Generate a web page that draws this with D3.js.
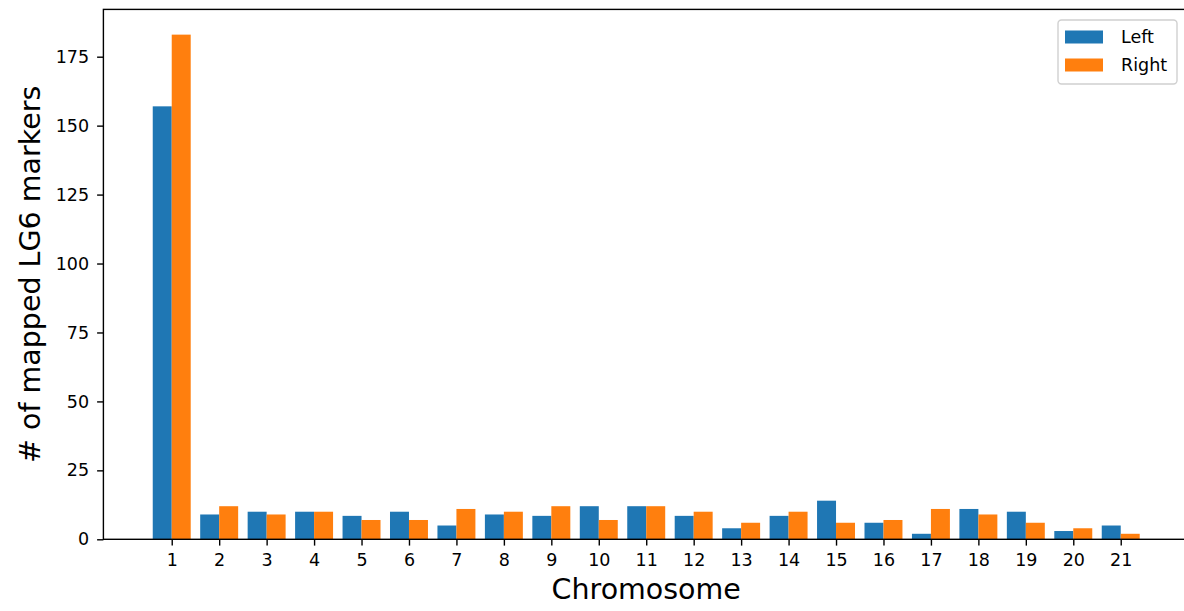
<!DOCTYPE html>
<html>
<head>
<meta charset="utf-8">
<script src="https://cdn.jsdelivr.net/npm/d3@7"></script>
<style>
  html, body { margin: 0; padding: 0; background: #fff; }
  svg { display: block; font-family: "DejaVu Sans", sans-serif; }
</style>
</head>
<body>
<svg id="chart" width="1184" height="611"></svg>
<script>
// Mapped LG6 markers per chromosome, left and right sides
const chromosomes = [1, 2, 3, 4, 5, 6, 7, 8, 9, 10, 11, 12, 13, 14, 15, 16, 17, 18, 19, 20, 21];
const leftCounts  = [157, 9, 10, 10, 8.5, 10, 5, 9, 8.5, 12, 12, 8.5, 4, 8.5, 14, 6, 2, 11, 10, 3, 5];
const rightCounts = [183, 12, 9, 10, 7, 7, 11, 10, 12, 7, 12, 10, 6, 10, 6, 7, 11, 9, 6, 4, 2];
const yTicks = [0, 25, 50, 75, 100, 125, 150, 175];
const seriesNames = ["Left", "Right"];
const seriesColors = ["#1f77b4", "#ff7f0e"];

const svg = d3.select("#chart");
const plot = { left: 103.4, top: 9.4, bottom: 539.3 };
const barWidth = 0.4;

// x limits: data extent plus 5% margin on each side
const xMin = chromosomes[0] - barWidth, xMax = chromosomes[chromosomes.length - 1] + barWidth;
const xPad = (xMax - xMin) * 0.05;
const x = d3.scaleLinear()
  .domain([xMin - xPad, xMax + xPad])
  .range([plot.left, plot.left + (xMax - xMin + 2 * xPad) * 47.45]);

const yMax = d3.max(rightCounts.concat(leftCounts)) * 1.05;
const y = d3.scaleLinear().domain([0, yMax]).range([plot.bottom, plot.top]);

// bars
const series = [leftCounts, rightCounts];
series.forEach((vals, si) => {
  svg.append("g").selectAll("rect")
    .data(chromosomes.map((c, i) => ({ c, v: vals[i] })))
    .join("rect")
    .attr("x", d => si === 0 ? x(d.c - barWidth) : x(d.c))
    .attr("width", d => x(d.c + barWidth) - x(d.c))
    .attr("y", d => y(d.v))
    .attr("height", d => y(0) - y(d.v))
    .attr("fill", seriesColors[si]);
});

// axes
const xAxis = d3.axisBottom(x).tickValues(chromosomes).tickSize(6.3).tickPadding(5);
const gx = svg.append("g").attr("transform", `translate(0,${plot.bottom})`).call(xAxis);
const yAxis = d3.axisLeft(y).tickValues(yTicks).tickSize(6.3).tickPadding(8);
const gy = svg.append("g").attr("transform", `translate(${plot.left},0)`).call(yAxis);

[gx, gy].forEach(g => {
  g.select(".domain").remove();
  g.selectAll(".tick line").attr("stroke", "#000").attr("stroke-width", 1.4);
  g.selectAll(".tick text").attr("fill", "#000").style("font-size", "17.5px")
    .style("font-family", "'DejaVu Sans', sans-serif");
});
gx.selectAll(".tick text").attr("dy", "0.9em");

// spines
const xRight = x.range()[1];
svg.append("rect")
  .attr("x", plot.left).attr("y", plot.top)
  .attr("width", xRight - plot.left).attr("height", plot.bottom - plot.top)
  .attr("fill", "none").attr("stroke", "#000").attr("stroke-width", 1.4);

// axis labels
svg.append("text")
  .attr("x", (plot.left + xRight) / 2).attr("y", 599)
  .attr("text-anchor", "middle").style("font-size", "28.5px").attr("fill", "#000")
  .text("Chromosome");
svg.append("text")
  .attr("transform", `translate(40,${(plot.top + plot.bottom) / 2}) rotate(-90)`)
  .attr("text-anchor", "middle").style("font-size", "28.5px").attr("fill", "#000")
  .text("# of mapped LG6 markers");

// legend
const lg = svg.append("g");
lg.append("rect")
  .attr("x", 1058).attr("y", 20).attr("width", 119).attr("height", 64)
  .attr("rx", 3.5).attr("fill", "#fff").attr("fill-opacity", 0.8)
  .attr("stroke", "#d0d0d0").attr("stroke-width", 1.4);
seriesNames.forEach((name, i) => {
  const yy = 30.5 + i * 28;
  lg.append("rect").attr("x", 1065).attr("y", yy).attr("width", 38).attr("height", 13)
    .attr("fill", seriesColors[i]);
  lg.append("text").attr("x", 1121).attr("y", yy + 12.5)
    .style("font-size", "17.5px").attr("fill", "#000").text(name);
});
</script>
</body>
</html>
